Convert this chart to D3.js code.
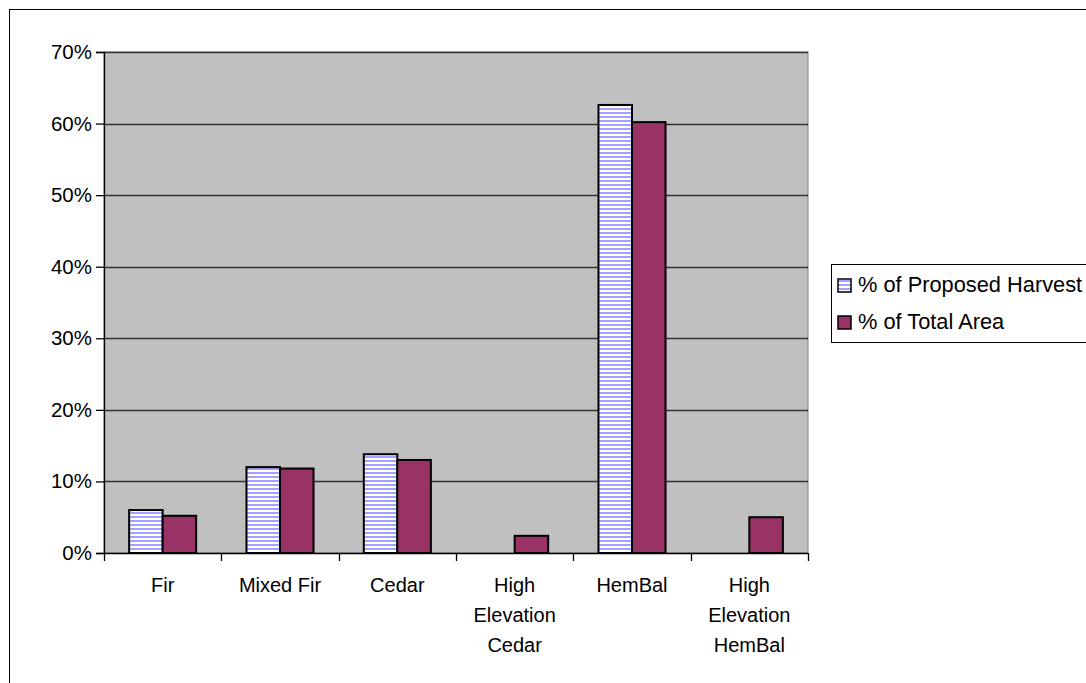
<!DOCTYPE html>
<html>
<head>
<meta charset="utf-8">
<script src="https://cdn.jsdelivr.net/npm/d3@7"></script>
<style>
  body { margin: 0; background: #fff; }
  svg { display: block; font-family: "Liberation Sans", Arial, sans-serif; }
</style>
</head>
<body>
<div id="viz"></div>
<script>
// chart data
var categories = ["Fir", "Mixed Fir", "Cedar", "High Elevation Cedar", "HemBal", "High Elevation HemBal"];
var seriesNames = ["% of Proposed Harvest", "% of Total Area"];
var harvest = [6.0, 12.0, 13.8, 0, 62.6, 0];
var totalArea = [5.2, 11.8, 13.0, 2.4, 60.2, 5.0];
var yTicks = [0, 10, 20, 30, 40, 50, 60, 70];

var width = 1086,
    height = 683;

// plot area
var plot = {left: 104, top: 52, right: 808, bottom: 553};

var svg = d3.select("#viz").append("svg")
    .attr("width", width)
    .attr("height", height);

// stripe pattern for the first series
var defs = svg.append("defs");
var pat = defs.append("pattern")
    .attr("id", "stripes")
    .attr("patternUnits", "userSpaceOnUse")
    .attr("width", 8)
    .attr("height", 4);
pat.append("rect").attr("width", 8).attr("height", 4).attr("fill", "#fff");
pat.append("rect").attr("y", 0).attr("width", 8).attr("height", 2).attr("fill", "#a3a3ff");

// outer chart border
svg.append("rect")
    .attr("x", 9.5).attr("y", 9.5)
    .attr("width", 1090).attr("height", 700)
    .attr("fill", "#fff")
    .attr("stroke", "#000")
    .attr("stroke-width", 1);

var x = d3.scaleBand()
    .domain(categories)
    .range([plot.left, plot.right]);

var y = d3.scaleLinear()
    .domain([0, 70])
    .range([plot.bottom, plot.top]);

// plot background
svg.append("rect")
    .attr("x", plot.left).attr("y", plot.top)
    .attr("width", plot.right - plot.left)
    .attr("height", plot.bottom - plot.top)
    .attr("fill", "#c0c0c0")
    .attr("stroke", "#808080")
    .attr("stroke-width", 1);

// gridlines
svg.append("g")
    .selectAll("line")
    .data(yTicks.filter(function(d) { return d > 0; }))
    .enter().append("line")
    .attr("x1", plot.left).attr("x2", plot.right)
    .attr("y1", function(d) { return Math.round(y(d)) + 0.5; })
    .attr("y2", function(d) { return Math.round(y(d)) + 0.5; })
    .attr("stroke", "#333")
    .attr("stroke-width", 1.5);

// bars
var barW = x.bandwidth() / 3.5;
var seriesData = [harvest, totalArea];
var fills = ["url(#stripes)", "#993366"];

seriesData.forEach(function(values, s) {
    svg.append("g")
        .selectAll("rect")
        .data(values.map(function(v, i) { return {cat: categories[i], v: v}; })
            .filter(function(d) { return d.v > 0; }))
        .enter().append("rect")
        .attr("x", function(d) { return x(d.cat) + x.bandwidth() / 2 - barW + s * barW; })
        .attr("y", function(d) { return y(d.v); })
        .attr("width", barW)
        .attr("height", function(d) { return y(0) - y(d.v); })
        .attr("fill", fills[s])
        .attr("stroke", "#000")
        .attr("stroke-width", 2);
});

// y axis
var yAxis = d3.axisLeft(y)
    .tickValues(yTicks)
    .tickSize(8)
    .tickPadding(4)
    .tickFormat(function(d) { return d + "%"; });

var gy = svg.append("g")
    .attr("transform", "translate(" + plot.left + ",0)")
    .call(yAxis);
gy.select(".domain").attr("stroke", "#000").attr("stroke-width", 1.3);
gy.selectAll(".tick line").attr("stroke", "#000").attr("stroke-width", 1.3);
gy.selectAll(".tick text")
    .attr("font-size", 20.5)
    .attr("fill", "#000")
    .attr("font-family", "Liberation Sans, Arial, sans-serif");

// x axis line and ticks at band boundaries
svg.append("line")
    .attr("x1", plot.left).attr("x2", plot.right)
    .attr("y1", plot.bottom + 0.5).attr("y2", plot.bottom + 0.5)
    .attr("stroke", "#000").attr("stroke-width", 1.3);

var bounds = categories.map(function(c) { return x(c); }).concat([plot.right]);
svg.append("g")
    .selectAll("line")
    .data(bounds)
    .enter().append("line")
    .attr("x1", function(d) { return Math.round(d) + 0.5; })
    .attr("x2", function(d) { return Math.round(d) + 0.5; })
    .attr("y1", plot.bottom).attr("y2", plot.bottom + 8)
    .attr("stroke", "#000").attr("stroke-width", 1.3);

// category labels, wrapped to the band width
var labels = svg.append("g")
    .selectAll("text")
    .data(categories)
    .enter().append("text")
    .attr("text-anchor", "middle")
    .attr("font-size", 20)
    .attr("fill", "#000")
    .attr("x", function(d) { return x(d) + x.bandwidth() / 2; })
    .attr("y", 592);

labels.each(function(d) {
    var text = d3.select(this);
    var words = d.split(" ");
    var lines = [];
    var line = [];
    var probe = text.append("tspan");
    words.forEach(function(w) {
        line.push(w);
        probe.text(line.join(" "));
        if (probe.node().getComputedTextLength() > x.bandwidth() - 10 && line.length > 1) {
            line.pop();
            lines.push(line.join(" "));
            line = [w];
        }
    });
    lines.push(line.join(" "));
    probe.remove();
    lines.forEach(function(l, i) {
        text.append("tspan")
            .attr("x", x(d) + x.bandwidth() / 2)
            .attr("dy", i === 0 ? 0 : 30)
            .text(l);
    });
});

// legend
var legend = svg.append("g");
legend.append("rect")
    .attr("x", 831.5).attr("y", 264.5)
    .attr("width", 270).attr("height", 78)
    .attr("fill", "#fff")
    .attr("stroke", "#000")
    .attr("stroke-width", 1);

var legendRows = [285, 322];
seriesNames.forEach(function(name, i) {
    legend.append("rect")
        .attr("x", 838).attr("y", legendRows[i] - 6)
        .attr("width", 13).attr("height", 13)
        .attr("fill", fills[i])
        .attr("stroke", "#000")
        .attr("stroke-width", 1.5);
    legend.append("text")
        .attr("x", 858)
        .attr("y", legendRows[i] + 7)
        .attr("font-size", 21.8)
        .attr("fill", "#000")
        .text(name);
});
</script>
</body>
</html>
